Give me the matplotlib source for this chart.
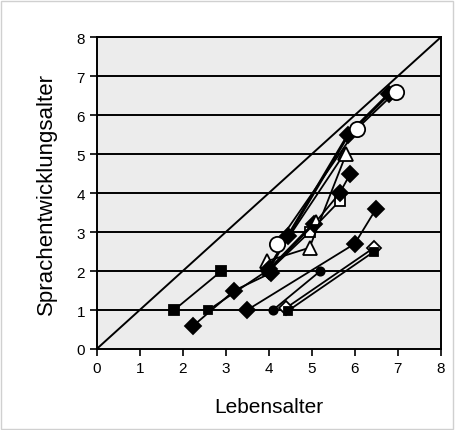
import matplotlib
matplotlib.use('Agg')
import matplotlib.pyplot as plt

plt.rcParams['font.family'] = ['Liberation Sans', 'DejaVu Sans']

# Kinder: Lebensalter (x) gegen Sprachentwicklungsalter (y)
sq_a_x = [1.8, 2.9]
sq_a_y = [1.0, 2.0]

dia_b_x = [2.25, 3.2, 4.05]
dia_b_y = [0.6, 1.5, 1.95]

sq_b_x = [2.6, 3.95]
sq_b_y = [1.0, 2.0]

dia_c_x = [4.0, 4.45, 5.85, 6.8]
dia_c_y = [2.05, 2.9, 5.5, 6.55]

circ_d_x = [4.2, 6.05, 6.95]
circ_d_y = [2.7, 5.65, 6.6]

tri_e_x = [3.95, 4.95, 5.8]
tri_e_y = [2.25, 2.6, 5.0]

tri_f_x = [4.0, 5.75]
tri_f_y = [2.1, 5.0]

dia_g_x = [4.0, 5.05, 5.65, 5.9]
dia_g_y = [2.0, 3.2, 4.0, 4.5]

osq_h_x = [4.0, 4.95, 5.65]
osq_h_y = [2.0, 3.0, 3.8]

tri_h_x = [4.05, 5.1]
tri_h_y = [2.1, 3.3]

dia_i_x = [3.5, 6.0, 6.5]
dia_i_y = [1.0, 2.7, 3.6]

circ_j_x = [4.1, 5.2]
circ_j_y = [1.0, 2.0]

odia_k_x = [4.4, 6.45]
odia_k_y = [1.05, 2.6]

sq_l_x = [4.45, 6.45]
sq_l_y = [0.98, 2.5]

fig = plt.figure(figsize=(4.55, 4.31), dpi=100)
ax = fig.add_axes([0.2125, 0.188, 0.756, 0.723])
ax.set_facecolor('#ececec')

for yv in range(1, 9):
    ax.axhline(yv, color='black', lw=1.4, zorder=1)
ax.plot([0, 8], [0, 8], color='black', lw=1.4, zorder=2)

def serie(x, y, m, ms, fill=True, lw=1.3):
    ax.plot(x, y, color='black', lw=lw, marker=m, markersize=ms,
            markerfacecolor='black' if fill else 'white',
            markeredgecolor='black', markeredgewidth=1.3, zorder=3)

serie(sq_a_x, sq_a_y, 's', 7)
serie(sq_b_x, sq_b_y, 's', 6)
serie(dia_b_x, dia_b_y, 'D', 8.5)
serie(dia_i_x, dia_i_y, 'D', 8.5)
serie(circ_j_x, circ_j_y, 'o', 6)
serie(odia_k_x, odia_k_y, 'D', 7, fill=False)
serie(sq_l_x, sq_l_y, 's', 6)
serie(osq_h_x, osq_h_y, 's', 7, fill=False)
serie(dia_g_x, dia_g_y, 'D', 8.5)
serie(tri_h_x, tri_h_y, '^', 7, fill=False)
serie(tri_f_x, tri_f_y, '^', 9, fill=False)
serie(tri_e_x, tri_e_y, '^', 10, fill=False)
serie(dia_c_x, dia_c_y, 'D', 8.5, lw=2.2)
serie(circ_d_x, circ_d_y, 'o', 11, fill=False)

ax.set_xlim(0, 8)
ax.set_ylim(0, 8)
ax.set_xticks(range(0, 9))
ax.set_yticks(range(0, 9))
ax.tick_params(direction='out', length=5, width=1.2, labelsize=11, colors='black')
for s in ax.spines.values():
    s.set_linewidth(1.4)
    s.set_color('black')
ax.set_xlabel('Lebensalter', fontsize=15, labelpad=16)
ax.set_ylabel('Sprachentwicklungsalter', fontsize=16, labelpad=14)

fig.patches.append(plt.Rectangle((0.002, 0.002), 0.994, 0.994, transform=fig.transFigure,
                                 fill=False, edgecolor='#d0d0d0', lw=1))

fig.savefig('out.png', dpi=100)
